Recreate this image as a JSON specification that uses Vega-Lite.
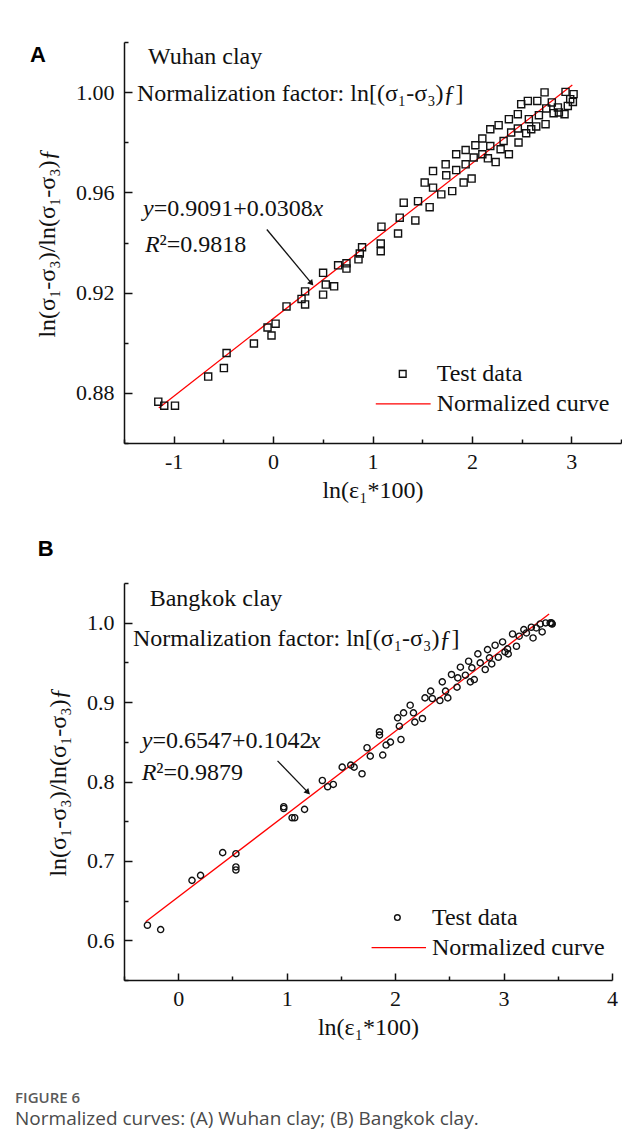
{
  "$schema": "https://vega.github.io/schema/vega-lite/v6.json",
  "background": "white",
  "padding": {"left": 15, "top": 31, "right": 0, "bottom": 8},
  "title": {
    "text": "FIGURE 6",
    "subtitle": "Normalized curves: (A) Wuhan clay; (B) Bangkok clay.",
    "orient": "bottom",
    "anchor": "start",
    "frame": "bounds",
    "offset": 52,
    "dx": -15,
    "font": "Open Sans",
    "fontSize": 15,
    "fontWeight": 600,
    "color": "#5a5a5a",
    "subtitleFont": "Open Sans",
    "subtitleFontSize": 19,
    "subtitleColor": "#4a4a4a",
    "subtitlePadding": 4
  },
  "datasets": {
    "ptsA": [
      {"x": -1.155, "y": 0.8765}, {"x": -1.095, "y": 0.8749}, {"x": -0.987, "y": 0.8749}, {"x": -0.653, "y": 0.8865},
      {"x": -0.495, "y": 0.8899}, {"x": -0.468, "y": 0.8959}, {"x": -0.193, "y": 0.8997}, {"x": -0.056, "y": 0.9061},
      {"x": -0.016, "y": 0.9029}, {"x": 0.025, "y": 0.9076}, {"x": 0.135, "y": 0.9145}, {"x": 0.286, "y": 0.9175},
      {"x": 0.322, "y": 0.9205}, {"x": 0.322, "y": 0.9153}, {"x": 0.503, "y": 0.9279}, {"x": 0.503, "y": 0.9192},
      {"x": 0.53, "y": 0.9232}, {"x": 0.614, "y": 0.9225}, {"x": 0.654, "y": 0.9309}, {"x": 0.738, "y": 0.9317},
      {"x": 0.738, "y": 0.9296}, {"x": 0.859, "y": 0.9333}, {"x": 0.872, "y": 0.9356}, {"x": 0.895, "y": 0.9381},
      {"x": 1.09, "y": 0.9463}, {"x": 1.083, "y": 0.9396}, {"x": 1.083, "y": 0.9365}, {"x": 1.257, "y": 0.9436},
      {"x": 1.274, "y": 0.9499}, {"x": 1.431, "y": 0.9488}, {"x": 1.314, "y": 0.9559}, {"x": 1.458, "y": 0.9565},
      {"x": 1.575, "y": 0.9541}, {"x": 1.525, "y": 0.9639}, {"x": 1.609, "y": 0.9619}, {"x": 1.609, "y": 0.9685},
      {"x": 1.692, "y": 0.9592}, {"x": 1.736, "y": 0.9712}, {"x": 1.742, "y": 0.9668}, {"x": 1.802, "y": 0.9605},
      {"x": 1.842, "y": 0.9689}, {"x": 1.842, "y": 0.9752}, {"x": 1.917, "y": 0.9639}, {"x": 1.937, "y": 0.9712},
      {"x": 1.937, "y": 0.9769}, {"x": 1.997, "y": 0.9655}, {"x": 2.018, "y": 0.9739}, {"x": 2.035, "y": 0.9788},
      {"x": 2.105, "y": 0.9815}, {"x": 2.105, "y": 0.9752}, {"x": 2.161, "y": 0.9736}, {"x": 2.185, "y": 0.9852},
      {"x": 2.185, "y": 0.9785}, {"x": 2.239, "y": 0.9721}, {"x": 2.269, "y": 0.9868}, {"x": 2.289, "y": 0.9772},
      {"x": 2.319, "y": 0.9805}, {"x": 2.372, "y": 0.9752}, {"x": 2.372, "y": 0.9892}, {"x": 2.395, "y": 0.9839},
      {"x": 2.462, "y": 0.9855}, {"x": 2.469, "y": 0.9799}, {"x": 2.462, "y": 0.9912}, {"x": 2.496, "y": 0.9952},
      {"x": 2.546, "y": 0.9836}, {"x": 2.563, "y": 0.9965}, {"x": 2.573, "y": 0.9892}, {"x": 2.597, "y": 0.9852},
      {"x": 2.647, "y": 0.9863}, {"x": 2.658, "y": 0.9965}, {"x": 2.674, "y": 0.9908}, {"x": 2.731, "y": 0.9999},
      {"x": 2.741, "y": 0.9872}, {"x": 2.748, "y": 0.9935}, {"x": 2.804, "y": 0.9959}, {"x": 2.822, "y": 0.9916},
      {"x": 2.865, "y": 0.9939}, {"x": 2.875, "y": 0.9919}, {"x": 2.932, "y": 0.9912}, {"x": 2.942, "y": 1.0001},
      {"x": 2.965, "y": 0.9945}, {"x": 2.989, "y": 0.9972}, {"x": 3.023, "y": 0.9992}, {"x": 3.016, "y": 0.9961}
    ],
    "linesA": [
      {"k": "fit", "x": -1.15, "y": 0.874}, {"k": "fit", "x": 3.01, "y": 1.0028},
      {"k": "leg", "x": 1.033, "y": 0.8756}, {"k": "leg", "x": 1.585, "y": 0.8756},
      {"k": "arrow", "x": -0.063, "y": 0.9452}, {"k": "arrow", "x": 0.385, "y": 0.9238}
    ],
    "annA": [
      {"k": "panel", "label": "A", "x": -2.445, "y": 1.012},
      {"k": "name", "label": "Wuhan clay", "x": -1.259, "y": 1.014},
      {"k": "norm", "label": "Normalization factor: ln[(σ₁-σ₃)ƒ]", "x": -1.369, "y": 0.9992},
      {"k": "eqy", "label": "y", "x": -1.309, "y": 0.9532},
      {"k": "eqmid", "label": "=0.9091+0.0308", "x": -1.201, "y": 0.9532},
      {"k": "eqx", "label": "x", "x": 0.396, "y": 0.9532},
      {"k": "r", "label": "R", "x": -1.289, "y": 0.9392},
      {"k": "rval", "label": "²=0.9818", "x": -1.142, "y": 0.9392},
      {"k": "leg1", "label": "Test data", "x": 1.646, "y": 0.8876},
      {"k": "leg2", "label": "Normalized curve", "x": 1.646, "y": 0.8756},
      {"k": "sym", "label": "", "x": 1.304, "y": 0.8876},
      {"k": "head", "label": "", "x": 0.38, "y": 0.924}
    ],
    "ptsB": [
      {"x": -0.284, "y": 0.619}, {"x": -0.162, "y": 0.6135}, {"x": 0.127, "y": 0.6755}, {"x": 0.206, "y": 0.6818},
      {"x": 0.41, "y": 0.7104}, {"x": 0.532, "y": 0.7091}, {"x": 0.532, "y": 0.6924}, {"x": 0.532, "y": 0.6886},
      {"x": 0.973, "y": 0.7682}, {"x": 0.973, "y": 0.766}, {"x": 1.05, "y": 0.7544}, {"x": 1.074, "y": 0.7544},
      {"x": 1.165, "y": 0.7649}, {"x": 1.329, "y": 0.8013}, {"x": 1.378, "y": 0.7934}, {"x": 1.43, "y": 0.7963},
      {"x": 1.512, "y": 0.8181}, {"x": 1.591, "y": 0.8207}, {"x": 1.622, "y": 0.8181}, {"x": 1.695, "y": 0.8097},
      {"x": 1.741, "y": 0.8425}, {"x": 1.771, "y": 0.832}, {"x": 1.856, "y": 0.8626}, {"x": 1.856, "y": 0.8584},
      {"x": 1.886, "y": 0.8333}, {"x": 1.917, "y": 0.8459}, {"x": 1.957, "y": 0.8496}, {"x": 2.023, "y": 0.8802},
      {"x": 2.039, "y": 0.8697}, {"x": 2.054, "y": 0.8529}, {"x": 2.078, "y": 0.8865}, {"x": 2.139, "y": 0.8961},
      {"x": 2.169, "y": 0.8865}, {"x": 2.182, "y": 0.8748}, {"x": 2.252, "y": 0.8793}, {"x": 2.276, "y": 0.9053},
      {"x": 2.328, "y": 0.9138}, {"x": 2.343, "y": 0.9045}, {"x": 2.413, "y": 0.902}, {"x": 2.435, "y": 0.9255},
      {"x": 2.465, "y": 0.9138}, {"x": 2.486, "y": 0.9053}, {"x": 2.52, "y": 0.9347}, {"x": 2.571, "y": 0.9188},
      {"x": 2.578, "y": 0.9305}, {"x": 2.602, "y": 0.944}, {"x": 2.648, "y": 0.9339}, {"x": 2.678, "y": 0.9515},
      {"x": 2.694, "y": 0.9255}, {"x": 2.73, "y": 0.9284}, {"x": 2.708, "y": 0.9431}, {"x": 2.763, "y": 0.9607},
      {"x": 2.785, "y": 0.9494}, {"x": 2.831, "y": 0.941}, {"x": 2.852, "y": 0.9661}, {"x": 2.87, "y": 0.9557},
      {"x": 2.891, "y": 0.9481}, {"x": 2.922, "y": 0.9716}, {"x": 2.952, "y": 0.9565}, {"x": 2.991, "y": 0.9758},
      {"x": 3.013, "y": 0.9632}, {"x": 3.043, "y": 0.9607}, {"x": 3.037, "y": 0.967}, {"x": 3.083, "y": 0.9858},
      {"x": 3.119, "y": 0.9704}, {"x": 3.144, "y": 0.983}, {"x": 3.187, "y": 0.9913}, {"x": 3.211, "y": 0.9871},
      {"x": 3.256, "y": 0.9943}, {"x": 3.272, "y": 0.9808}, {"x": 3.302, "y": 0.9934}, {"x": 3.338, "y": 0.9984},
      {"x": 3.356, "y": 0.9884}, {"x": 3.388, "y": 0.9997}, {"x": 3.43, "y": 0.9997}, {"x": 3.448, "y": 0.9984},
      {"x": 3.44, "y": 1.0}, {"x": 3.445, "y": 0.999}
    ],
    "linesB": [
      {"k": "fit", "x": -0.3, "y": 0.6234}, {"k": "fit", "x": 3.42, "y": 1.011},
      {"k": "leg", "x": 1.783, "y": 0.5909}, {"k": "leg", "x": 2.285, "y": 0.5909},
      {"k": "arrow", "x": 0.916, "y": 0.826}, {"k": "arrow", "x": 1.19, "y": 0.7872}
    ],
    "annB": [
      {"k": "panel", "label": "B", "x": -1.295, "y": 1.084},
      {"k": "name", "label": "Bangkok clay", "x": -0.263, "y": 1.03},
      {"k": "norm", "label": "Normalization factor: ln[(σ₁-σ₃)ƒ]", "x": -0.418, "y": 0.9796},
      {"k": "eqy", "label": "y", "x": -0.336, "y": 0.8513},
      {"k": "eqmid", "label": "=0.6547+0.1042", "x": -0.238, "y": 0.8513},
      {"k": "eqx", "label": "x", "x": 1.214, "y": 0.8513},
      {"k": "r", "label": "R", "x": -0.336, "y": 0.811},
      {"k": "rval", "label": "²=0.9879", "x": -0.202, "y": 0.811},
      {"k": "leg1", "label": "Test data", "x": 2.34, "y": 0.6286},
      {"k": "leg2", "label": "Normalized curve", "x": 2.34, "y": 0.5909},
      {"k": "sym", "label": "", "x": 2.021, "y": 0.6286},
      {"k": "head", "label": "", "x": 1.19, "y": 0.7872}
    ]
  },
  "config": {
    "view": {"stroke": null},
    "font": "Liberation Serif",
    "axis": {
      "grid": false,
      "domainColor": "#111111",
      "domainWidth": 1.5,
      "tickColor": "#111111",
      "tickWidth": 1.5,
      "labelFont": "Liberation Serif",
      "labelFontSize": 22,
      "labelColor": "#111111",
      "labelOverlap": false,
      "labelFlush": false,
      "titleFont": "Liberation Serif",
      "titleFontSize": 24,
      "titleFontWeight": "normal",
      "titleColor": "#111111"
    },
    "text": {"font": "Liberation Serif", "fontSize": 24, "color": "#111111", "align": "left", "baseline": "middle"}
  },
  "concat": [
    {
      "width": 497,
      "height": 401,
      "encoding": {
        "x": {
          "field": "x", "type": "quantitative",
          "scale": {"domain": [-1.5, 3.5], "nice": false, "zero": false},
          "axis": {
            "title": "ln(ε₁*100)",
            "values": [-1.5, -1, -0.5, 0, 0.5, 1, 1.5, 2, 2.5, 3, 3.5],
            "labelExpr": "datum.value % 1 === 0 ? '' + datum.value : ''",
            "tickSize": {"condition": {"test": "datum.value % 1 === 0", "value": -7}, "value": -4},
            "labelPadding": 15,
            "titlePadding": 3
          }
        },
        "y": {
          "field": "y", "type": "quantitative",
          "scale": {"domain": [0.86, 1.02], "nice": false, "zero": false},
          "axis": {
            "title": "ln(σ₁-σ₃)/ln(σ₁-σ₃)ƒ",
            "values": [0.86, 0.88, 0.9, 0.92, 0.94, 0.96, 0.98, 1.0, 1.02],
            "labelExpr": "round(datum.value * 100) % 4 === 0 ? format(datum.value, '.2f') : ''",
            "tickSize": {"condition": {"test": "round(datum.value * 100) % 4 === 0", "value": -8}, "value": -4},
            "labelPadding": 18,
            "titlePadding": 16
          }
        }
      },
      "layer": [
        {"data": {"name": "linesA"}, "transform": [{"filter": "datum.k !== 'arrow'"}], "mark": {"type": "line", "color": "#ff0000", "strokeWidth": 1.3}, "encoding": {"detail": {"field": "k"}}},
        {"data": {"name": "linesA"}, "transform": [{"filter": "datum.k === 'arrow'"}], "mark": {"type": "line", "color": "#111111", "strokeWidth": 1.3}, "encoding": {}},
        {"data": {"name": "ptsA"}, "mark": {"type": "point", "shape": "square", "filled": false, "stroke": "#111111", "strokeWidth": 1.4, "size": 50, "opacity": 1}},
        {"data": {"name": "annA"}, "transform": [{"filter": "datum.k === 'sym'"}], "mark": {"type": "point", "shape": "square", "filled": false, "stroke": "#111111", "strokeWidth": 1.4, "size": 45, "opacity": 1}},
        {"data": {"name": "annA"}, "transform": [{"filter": "datum.k === 'head'"}], "mark": {"type": "point", "shape": "triangle", "filled": true, "color": "#111111", "size": 45, "angle": 140, "opacity": 1}},
        {"data": {"name": "annA"}, "transform": [{"filter": "indexof(['name','norm','eqmid','rval','leg1','leg2'], datum.k) >= 0"}], "mark": {"type": "text"}, "encoding": {"text": {"field": "label"}}},
        {"data": {"name": "annA"}, "transform": [{"filter": "indexof(['eqy','eqx','r'], datum.k) >= 0"}], "mark": {"type": "text", "fontStyle": "italic"}, "encoding": {"text": {"field": "label"}}},
        {"data": {"name": "annA"}, "transform": [{"filter": "datum.k === 'panel'"}], "mark": {"type": "text", "font": "Liberation Sans", "fontSize": 22, "fontWeight": "bold", "color": "#000000", "baseline": "alphabetic"}, "encoding": {"text": {"field": "label"}}}
      ]
    },
    {
      "width": 488,
      "height": 397,
      "encoding": {
        "x": {
          "field": "x", "type": "quantitative",
          "scale": {"domain": [-0.5, 4], "nice": false, "zero": false},
          "axis": {
            "title": "ln(ε₁*100)",
            "values": [-0.5, 0, 0.5, 1, 1.5, 2, 2.5, 3, 3.5, 4],
            "labelExpr": "datum.value % 1 === 0 ? '' + datum.value : ''",
            "tickSize": {"condition": {"test": "datum.value % 1 === 0", "value": -7}, "value": -4},
            "labelPadding": 15,
            "titlePadding": 3
          }
        },
        "y": {
          "field": "y", "type": "quantitative",
          "scale": {"domain": [0.55, 1.05], "nice": false, "zero": false},
          "axis": {
            "title": "ln(σ₁-σ₃)/ln(σ₁-σ₃)ƒ",
            "values": [0.55, 0.6, 0.65, 0.7, 0.75, 0.8, 0.85, 0.9, 0.95, 1.0, 1.05],
            "labelExpr": "round(datum.value * 100) % 10 === 0 ? format(datum.value, '.1f') : ''",
            "tickSize": {"condition": {"test": "round(datum.value * 100) % 10 === 0", "value": -8}, "value": -4},
            "labelPadding": 18,
            "titlePadding": 16
          }
        }
      },
      "layer": [
        {"data": {"name": "linesB"}, "transform": [{"filter": "datum.k !== 'arrow'"}], "mark": {"type": "line", "color": "#ff0000", "strokeWidth": 1.3}, "encoding": {"detail": {"field": "k"}}},
        {"data": {"name": "linesB"}, "transform": [{"filter": "datum.k === 'arrow'"}], "mark": {"type": "line", "color": "#111111", "strokeWidth": 1.3}, "encoding": {}},
        {"data": {"name": "ptsB"}, "mark": {"type": "point", "shape": "circle", "filled": false, "stroke": "#111111", "strokeWidth": 1.4, "size": 38, "opacity": 1}},
        {"data": {"name": "annB"}, "transform": [{"filter": "datum.k === 'sym'"}], "mark": {"type": "point", "shape": "circle", "filled": false, "stroke": "#111111", "strokeWidth": 1.4, "size": 32, "opacity": 1}},
        {"data": {"name": "annB"}, "transform": [{"filter": "datum.k === 'head'"}], "mark": {"type": "point", "shape": "triangle", "filled": true, "color": "#111111", "size": 45, "angle": 136, "opacity": 1}},
        {"data": {"name": "annB"}, "transform": [{"filter": "indexof(['name','norm','eqmid','rval','leg1','leg2'], datum.k) >= 0"}], "mark": {"type": "text"}, "encoding": {"text": {"field": "label"}}},
        {"data": {"name": "annB"}, "transform": [{"filter": "indexof(['eqy','eqx','r'], datum.k) >= 0"}], "mark": {"type": "text", "fontStyle": "italic"}, "encoding": {"text": {"field": "label"}}},
        {"data": {"name": "annB"}, "transform": [{"filter": "datum.k === 'panel'"}], "mark": {"type": "text", "font": "Liberation Sans", "fontSize": 22, "fontWeight": "bold", "color": "#000000", "baseline": "alphabetic"}, "encoding": {"text": {"field": "label"}}}
      ]
    }
  ],
  "columns": 1,
  "align": "none",
  "spacing": 36
}
